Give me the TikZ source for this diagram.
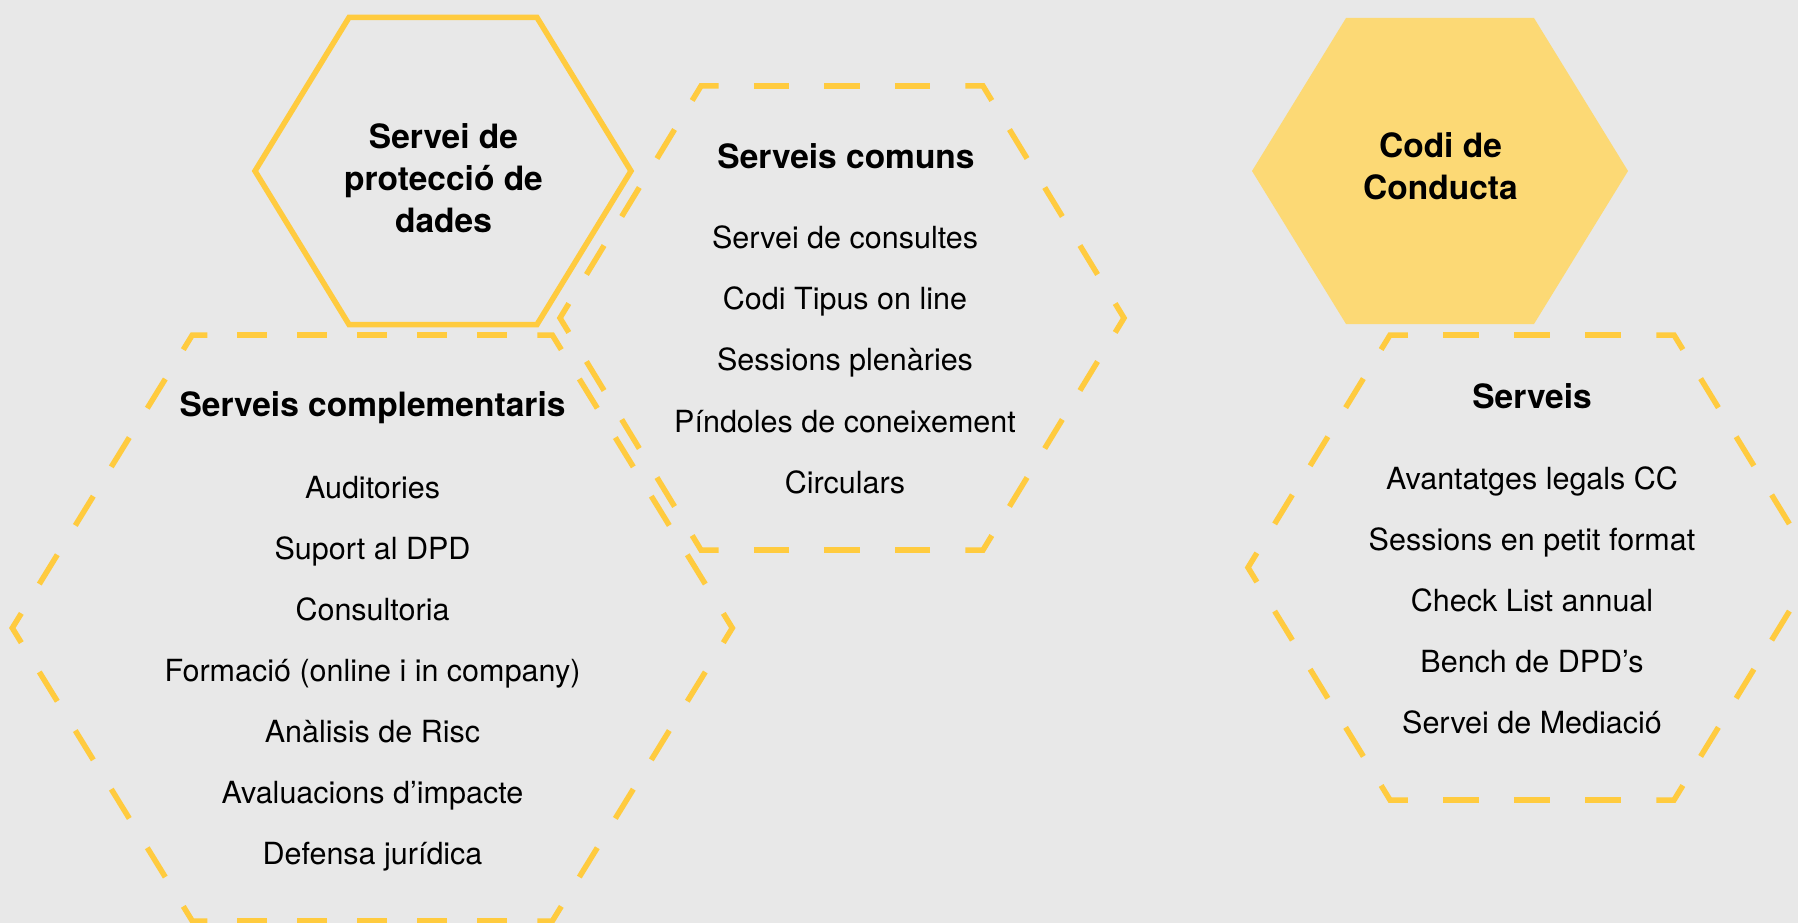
\documentclass[tikz,border=0pt]{standalone}
\usepackage{fontspec}
\setmainfont{TeX Gyre Heros}
\usetikzlibrary{calc}
\definecolor{hy}{RGB}{255,203,63}
\definecolor{hfill}{RGB}{252,217,117}
\definecolor{bg}{RGB}{232,232,232}
\tikzset{
  hexline/.style={draw=hy, line width=5.5pt, line join=miter},
  dsh/.style={draw=hy, line width=5.5pt, line join=miter, line cap=butt},
  item/.style={anchor=base, inner sep=0pt, font=\fontsize{30.5}{36}\selectfont},
  ttl/.style={anchor=base, inner sep=0pt, font=\fontsize{33.5}{40}\selectfont\bfseries},
  hexlabel/.style={align=center, inner sep=0pt, font=\fontsize{33.5}{42}\selectfont\bfseries},
}
\newcommand{\hexcoords}[5]{%
  \coordinate (#1-0) at ({#2-#4},{#3});
  \coordinate (#1-1) at ({#2-#4/2},{#3-#5});
  \coordinate (#1-2) at ({#2+#4/2},{#3-#5});
  \coordinate (#1-3) at ({#2+#4},{#3});
  \coordinate (#1-4) at ({#2+#4/2},{#3+#5});
  \coordinate (#1-5) at ({#2-#4/2},{#3+#5});
}
\newcommand{\dashhex}[3]{%
  \foreach \va/\vb/\nn in {0/1/#3,1/2/#2,2/3/#3,3/4/#3,4/5/#2,5/0/#3}{
    \pgfmathtruncatemacro\mm{\nn-2}
    \foreach \kk in {0,...,\mm}{
      \draw[dsh] ($(#1-\va)!{(3+4*\kk)/(4*\nn)}!(#1-\vb)$) -- ($(#1-\va)!{(5+4*\kk)/(4*\nn)}!(#1-\vb)$);
    }
  }
  \foreach \vp/\vi/\vq/\ni/\no in {5/0/1/#3/#3,0/1/2/#3/#2,1/2/3/#2/#3,2/3/4/#3/#3,3/4/5/#3/#2,4/5/0/#2/#3}{
    \draw[dsh] ($(#1-\vp)!{1-1/(4*\ni)}!(#1-\vi)$) -- (#1-\vi) -- ($(#1-\vi)!{1/(4*\no)}!(#1-\vq)$);
  }
}
\begin{document}
\begin{tikzpicture}[x=1pt,y=-1pt]
\useasboundingbox (0,0) rectangle (1798,923);
\clip (0,0) rectangle (1798,923);
\fill[bg] (0,0) rectangle (1798,923);

% hexagon geometry
\hexcoords{h1}{443}{171}{188}{153.5}
\hexcoords{h2}{842}{318}{282}{232}
\hexcoords{h3}{1440}{171}{188}{153}
\hexcoords{h4}{372.3}{628}{360}{293}
\hexcoords{h5}{1532}{567.5}{284}{232.5}

% solid and filled hexagons
\draw[hexline] (h1-0) -- (h1-1) -- (h1-2) -- (h1-3) -- (h1-4) -- (h1-5) -- cycle;
\fill[hfill] (h3-0) -- (h3-1) -- (h3-2) -- (h3-3) -- (h3-4) -- (h3-5) -- cycle;

% dashed hexagons
\dashhex{h2}{4}{4}
\dashhex{h4}{6}{5}
\dashhex{h5}{4}{4}

% hexagon labels
\node[hexlabel] (lbl1) at (443.5,178) {Servei de\\protecció de\\dades};
\node[hexlabel] (lbl3) at (1440.5,166) {Codi de\\Conducta};

% Serveis comuns
\node[ttl] (t2) at (846,168.3) {Serveis comuns};
\foreach \t [count=\i from 0] in {Servei de consultes,Codi Tipus on line,Sessions plenàries,Píndoles de coneixement,Circulars}
  \node[item] (c\i) at (845,{248.3+61.25*\i}) {\t};

% Serveis complementaris
\node[ttl] (t4) at (372.5,416.7) {Serveis complementaris};
\foreach \t [count=\i from 0] in {Auditories,Suport al DPD,Consultoria,Formació (online i in company),Anàlisis de Risc,Avaluacions d’impacte,Defensa jurídica}
  \node[item] (s\i) at (372.5,{498.3+61.1*\i}) {\t};

% Serveis
\node[ttl] (t5) at (1532,408.3) {Serveis};
\foreach \t [count=\i from 0] in {Avantatges legals CC,Sessions en petit format,Check List annual,Bench de DPD’s,Servei de Mediació}
  \node[item] (v\i) at (1532,{489.3+61*\i}) {\t};
\end{tikzpicture}
\end{document}
